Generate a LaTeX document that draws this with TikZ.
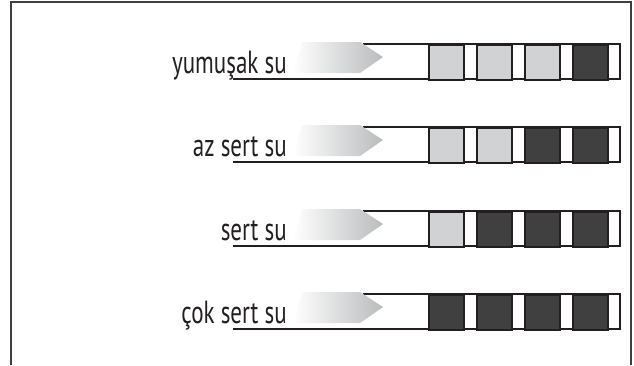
\documentclass[tikz,border=0pt]{standalone}
\usepackage{fontspec}
\setmainfont{PT Sans}
\newfontfamily\lblfont{PT Sans}[FakeStretch=0.72]
\usetikzlibrary{positioning}
\definecolor{cellgray}{RGB}{209,210,212}
\definecolor{celldark}{RGB}{64,64,64}
\definecolor{linedark}{RGB}{35,31,32}
\definecolor{framegray}{RGB}{62,62,62}
\definecolor{arrowgray}{RGB}{186,187,189}

\begin{document}
\begin{tikzpicture}[x=1pt, y=-1pt,
  cell/.style={draw=linedark, line width=1.6pt, minimum size=35pt, inner sep=0pt, anchor=north west},
  bar/.style={draw=linedark, line width=1.3pt},
  lbl/.style={anchor=base east, inner sep=0pt, font=\lblfont\fontsize{32}{36}\selectfont, text=linedark}
]
\useasboundingbox (0,0) rectangle (634,365);
\draw[framegray, line width=1.8pt] (11,365) -- (11,2) -- (631,2) -- (631,365);

\foreach \y/\t/\a/\b/\c/\d [count=\n] in {
  44/yumuşak su/cellgray/cellgray/cellgray/celldark,
  127/az sert su/cellgray/cellgray/celldark/celldark,
  211/sert su/cellgray/celldark/celldark/celldark,
  294/çok sert su/celldark/celldark/celldark/celldark}{
  % bar and arrow
  \draw[bar] (363,\y) -- (620,\y) -- (620,\y+35) -- (233,\y+35);
  \shade[left color=white, right color=arrowgray] (293,\y+29) -- (302,\y-2) -- (360,\y-2) -- (383,\y+13) -- (360,\y+29) -- cycle;
  \node[lbl] (name\n) at (287,\y+29) {\t};
  % cells
  \node[cell, fill=\a] (c\n a) at (428,\y) {};
  \node[cell, fill=\b] (c\n b) at (476,\y) {};
  \node[cell, fill=\c] (c\n c) at (524,\y) {};
  \node[cell, fill=\d] (c\n d) at (572,\y) {};
}
\end{tikzpicture}
\end{document}
